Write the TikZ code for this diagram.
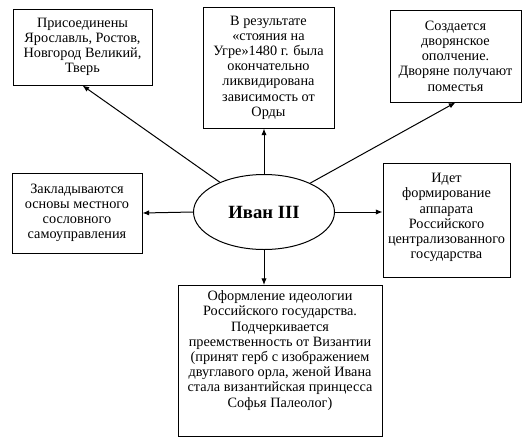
\documentclass[tikz,border=0pt]{standalone}
\usepackage{fontspec}
\setmainfont{Liberation Serif}
\usetikzlibrary{arrows.meta,shapes.geometric}

\tikzset{every picture/.style={line width=0.75pt}}
\tikzset{
  fact/.style={draw, rectangle, align=center, inner sep=2pt, font=\fontsize{10.7}{11.4}\selectfont},
  ruler/.style={draw, ellipse, inner sep=0pt, minimum width=105.75pt, minimum height=56.25pt, font=\fontsize{14}{16}\selectfont\bfseries},
  link/.style={-{Latex[length=5pt,width=4pt]}},
}

\begin{document}
\begin{tikzpicture}[x=0.75pt,y=0.75pt,yscale=-1,xscale=1]
\useasboundingbox (0,0) rectangle (531,443);

% Ellipse
\node [ruler] (ivan) at (264,212) {Иван III};

% Text Node
\node [fact, minimum width=104.25pt, minimum height=57pt] (land) at (82.5,47) {Присоединены\\Ярославль, Ростов,\\Новгород Великий,\\Тверь};
% Text Node
\node [fact, minimum width=98.25pt, minimum height=90.75pt] (ugra) at (268.5,67.5) {В результате\\«стояния на\\Угре»1480 г. была\\окончательно\\ликвидирована\\зависимость от\\Орды};
% Text Node
\node [fact, minimum width=98.25pt, minimum height=69pt] (army) at (455.5,56) {Создается\\дворянское\\ополчение.\\Дворяне получают\\поместья};
% Text Node
\node [fact, minimum width=97.5pt, minimum height=60pt] (local) at (77,213) {Закладываются\\основы местного\\сословного\\самоуправления};
% Text Node
\node [fact, minimum width=95.25pt, minimum height=85.5pt, text depth=6pt] (state) at (446.5,220) {Идет\\формирование\\аппарата\\Российского\\централизованного\\государства};
% Text Node
\node [fact, anchor=north, minimum width=153pt, inner ysep=4pt, text depth=18pt] (idea) at (280,285) {Оформление идеологии\\Российского государства.\\Подчеркивается\\преемственность от Византии\\(принят герб с изображением\\двуглавого орла, женой Ивана\\стала византийская принцесса\\Софья Палеолог)};

%Straight Lines
\draw [link] (ivan.146) -- (land.south);
\draw [link] (ivan.north) -- (ivan.north |- ugra.south);
\draw [link] (ivan.32) -- (army.south);
\draw [link] (ivan.west) -- (local.east);
\draw [link] (ivan.east) -- (ivan.east -| state.west);
\draw [link] (ivan.south) -- (ivan.south |- idea.north);

\end{tikzpicture}
\end{document}
